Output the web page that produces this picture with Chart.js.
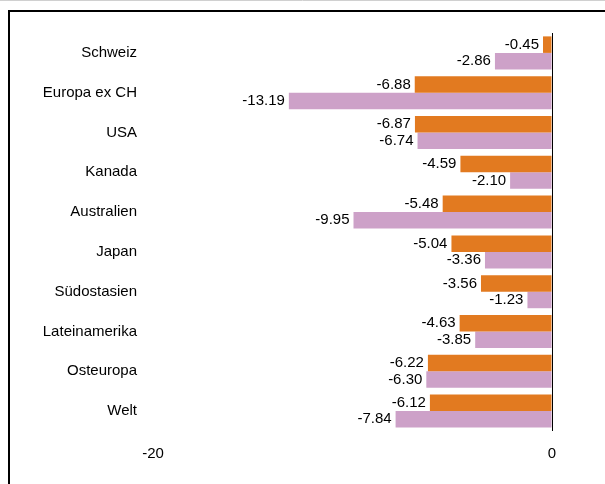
<!DOCTYPE html>
<html>
<head>
<meta charset="utf-8">
<script src="https://cdn.jsdelivr.net/npm/chart.js@4/dist/chart.umd.min.js"></script>
<style>
html,body{margin:0;padding:0;background:#fff;}
#wrap{position:relative;width:605px;height:484px;}
</style>
</head>
<body>
<div id="wrap"><canvas id="c" width="605" height="484"></canvas></div>
<script>
const categories = ["Schweiz","Europa ex CH","USA","Kanada","Australien","Japan","Südostasien","Lateinamerika","Osteuropa","Welt"];
const seriesOrange = [-0.45,-6.88,-6.87,-4.59,-5.48,-5.04,-3.56,-4.63,-6.22,-6.12];
const seriesPink = [-2.86,-13.19,-6.74,-2.10,-9.95,-3.36,-1.23,-3.85,-6.30,-7.84];
const xTicks = [-20, 0];

const FONT = "'Liberation Sans', Arial, sans-serif";

const frame = {
  id: 'frame',
  afterDraw(chart) {
    const ctx = chart.ctx;
    ctx.save();
    ctx.strokeStyle = '#d0d0d0';
    ctx.lineWidth = 1;
    ctx.beginPath(); ctx.moveTo(0, 0.5); ctx.lineTo(605, 0.5); ctx.stroke();
    ctx.strokeStyle = '#000';
    ctx.lineWidth = 2;
    ctx.beginPath();
    ctx.moveTo(9, 484); ctx.lineTo(9, 11); ctx.lineTo(605, 11);
    ctx.stroke();
    ctx.restore();
  }
};

const valueLabels = {
  id: 'valueLabels',
  afterDatasetsDraw(chart) {
    const ctx = chart.ctx;
    ctx.save();
    ctx.font = '15px ' + FONT;
    ctx.fillStyle = '#000';
    ctx.textAlign = 'right';
    ctx.textBaseline = 'middle';
    chart.data.datasets.forEach((ds, di) => {
      const meta = chart.getDatasetMeta(di);
      meta.data.forEach((el, i) => {
        const v = ds.data[i];
        const left = Math.min(el.x, el.base);
        ctx.fillText(v.toFixed(2), left - 4, el.y);
      });
    });
    ctx.restore();
  }
};

new Chart(document.getElementById('c'), {
  type: 'bar',
  data: {
    labels: categories,
    datasets: [
      { data: seriesOrange, backgroundColor: 'rgb(226,122,32)', borderWidth: 0 },
      { data: seriesPink, backgroundColor: 'rgb(205,161,200)', borderWidth: 0 }
    ]
  },
  options: {
    indexAxis: 'y',
    responsive: false,
    animation: false,
    devicePixelRatio: 1,
    categoryPercentage: 0.83,
    barPercentage: 1.0,
    layout: { padding: { left: 0, right: 53, top: 33, bottom: 7 } },
    plugins: { legend: { display: false }, tooltip: { enabled: false } },
    scales: {
      x: {
        min: -20, max: 0,
        afterBuildTicks(scale) { scale.ticks = xTicks.map(v => ({ value: v })); },
        grid: {
          drawTicks: false,
          color: ctx => (ctx.tick && ctx.tick.value === 0) ? '#000' : 'rgba(0,0,0,0)',
          lineWidth: 1
        },
        border: { display: false },
        ticks: { padding: 14, color: '#000', font: { family: FONT, size: 15 }, maxRotation: 0 }
      },
      y: {
        afterFit(scale) { scale.width = 153; },
        grid: { display: false, drawTicks: false },
        border: { display: false },
        ticks: { padding: 16, color: '#000', font: { family: FONT, size: 15 } }
      }
    }
  },
  plugins: [frame, valueLabels]
});
</script>
</body>
</html>
